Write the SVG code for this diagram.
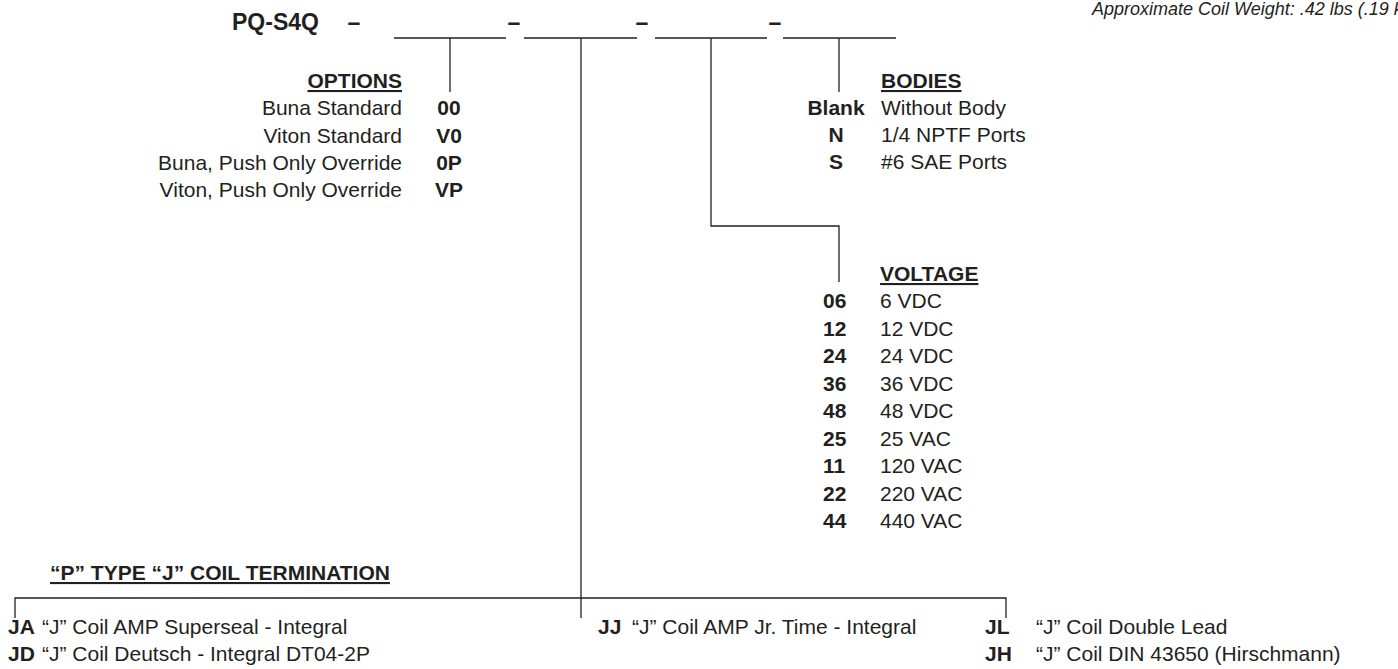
<svg xmlns="http://www.w3.org/2000/svg" width="1398" height="669" viewBox="0 0 1398 669">
<style>
text{font-family:"Liberation Sans",Arial,sans-serif;font-size:21px;fill:#231f20}
.b{font-weight:bold}
.h{font-weight:bold;text-decoration:underline}
.e{text-anchor:end}
.m{text-anchor:middle}
.big{font-size:23px;font-weight:bold}
.it{font-style:italic;font-size:18px}
.ln{stroke:#231f20;stroke-width:1.3;fill:none}
</style>
<rect width="1398" height="669" fill="#ffffff"/>
<g id="title">
<text x="1092" y="15" class="it">Approximate Coil Weight: .42 lbs (.19 kg)</text>
<text x="232" y="30" class="big">PQ-S4Q</text>
<text x="354" y="30" class="big m">–</text>
<text x="514" y="30" class="big m">–</text>
<text x="642" y="30" class="big m">–</text>
<text x="775" y="30" class="big m">–</text>
</g>
<g id="connectors" class="ln">
<path d="M394 38H506M524 38H637M655 38H767M783 38H896"/>
<path d="M450 38V92"/>
<path d="M839 38V92"/>
<path d="M711 38V226H839V282"/>
<path d="M581 38V618"/>
<path d="M15 618V598H1006V618"/>
</g>
<g id="options">
<text x="402" y="88" class="h e">OPTIONS</text>
<text x="402" y="115" class="e">Buna Standard</text>
<text x="402" y="142.5" class="e">Viton Standard</text>
<text x="402" y="170" class="e">Buna, Push Only Override</text>
<text x="402" y="197" class="e">Viton, Push Only Override</text>
<text x="449" y="115" class="b m">00</text>
<text x="449" y="142.5" class="b m">V0</text>
<text x="449" y="170" class="b m">0P</text>
<text x="449" y="197" class="b m">VP</text>
</g>
<g id="bodies">
<text x="881" y="88" class="h">BODIES</text>
<text x="836" y="115" class="b m">Blank</text>
<text x="836" y="142" class="b m">N</text>
<text x="836" y="169" class="b m">S</text>
<text x="881" y="115">Without Body</text>
<text x="881" y="142">1/4 NPTF Ports</text>
<text x="881" y="169">#6 SAE Ports</text>
</g>
<g id="voltage">
<text x="880" y="281" class="h">VOLTAGE</text>
<text x="823" y="308" class="b">06</text><text x="880" y="308">6 VDC</text>
<text x="823" y="335.5" class="b">12</text><text x="880" y="335.5">12 VDC</text>
<text x="823" y="363" class="b">24</text><text x="880" y="363">24 VDC</text>
<text x="823" y="390.5" class="b">36</text><text x="880" y="390.5">36 VDC</text>
<text x="823" y="418" class="b">48</text><text x="880" y="418">48 VDC</text>
<text x="823" y="445.5" class="b">25</text><text x="880" y="445.5">25 VAC</text>
<text x="823" y="473" class="b">11</text><text x="880" y="473">120 VAC</text>
<text x="823" y="500.5" class="b">22</text><text x="880" y="500.5">220 VAC</text>
<text x="823" y="528" class="b">44</text><text x="880" y="528">440 VAC</text>
</g>
<g id="termination">
<text x="50" y="580" class="h">“P” TYPE “J” COIL TERMINATION</text>
<text x="8" y="634" class="b">JA</text><text x="42" y="634">“J” Coil AMP Superseal - Integral</text>
<text x="8" y="661" class="b">JD</text><text x="42" y="661">“J” Coil Deutsch - Integral DT04-2P</text>
<text x="598" y="634" class="b">JJ</text><text x="632" y="634">“J” Coil AMP Jr. Time - Integral</text>
<text x="985" y="634" class="b">JL</text><text x="1036" y="634">“J” Coil Double Lead</text>
<text x="985" y="661" class="b">JH</text><text x="1036" y="661">“J” Coil DIN 43650 (Hirschmann)</text>
</g>
</svg>
